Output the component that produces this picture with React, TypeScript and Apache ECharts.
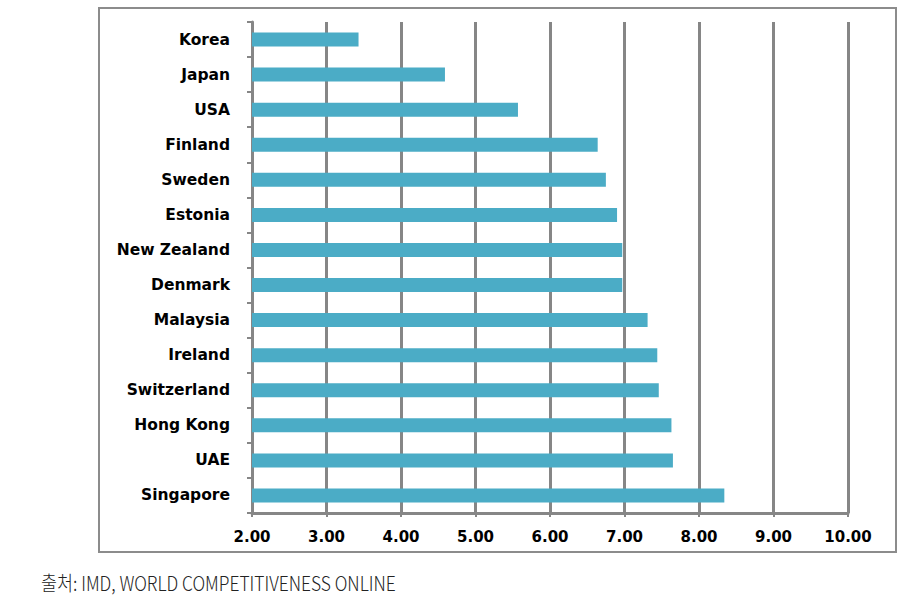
import React, { useEffect, useRef } from "react";
import * as echarts from "echarts";

const countries = [
  "Korea", "Japan", "USA", "Finland", "Sweden", "Estonia", "New Zealand",
  "Denmark", "Malaysia", "Ireland", "Switzerland", "Hong Kong", "UAE", "Singapore",
];
const scores = [3.43, 4.59, 5.57, 6.64, 6.75, 6.9, 6.97, 6.97, 7.31, 7.44, 7.46, 7.63, 7.65, 8.34];
const axisMin = 2;
const axisMax = 10;
const axisStep = 1;
const caption = "출처: IMD, WORLD COMPETITIVENESS ONLINE";

export default function App() {
  const ref = useRef<HTMLDivElement>(null);
  useEffect(() => {
    if (!ref.current) return;
    const chart = echarts.init(ref.current, null, { renderer: "svg" });
    const gray = "#868686";
    chart.setOption({
      animation: false,
      backgroundColor: "#ffffff",
      grid: { left: 252, right: 73, top: 22, bottom: 84, containLabel: false },
      xAxis: {
        type: "value",
        min: axisMin,
        max: axisMax,
        interval: axisStep,
        axisLine: { show: true, lineStyle: { color: gray, width: 3 } },
        axisTick: { show: true, length: 4, lineStyle: { color: gray, width: 2 } },
        splitLine: { show: true, lineStyle: { color: gray, width: 3 } },
        axisLabel: {
          formatter: (v: number) => v.toFixed(2),
          color: "#000",
          fontFamily: "DejaVu Sans",
          fontWeight: "bold",
          fontSize: 15,
          margin: 16,
        },
      },
      yAxis: {
        type: "category",
        data: countries,
        inverse: true,
        axisLine: { show: true, lineStyle: { color: gray, width: 3 } },
        axisTick: { show: true, length: 5, lineStyle: { color: gray, width: 2 } },
        splitLine: { show: false },
        axisLabel: {
          color: "#000",
          fontFamily: "DejaVu Sans",
          fontWeight: "bold",
          fontSize: 15.5,
          margin: 22,
          padding: [2, 0, 0, 0],
        },
      },
      series: [
        {
          type: "bar",
          data: scores,
          barWidth: 14,
          itemStyle: { color: "#4BACC6" },
        },
      ],
      graphic: [
        {
          type: "rect",
          shape: { x: 99, y: 8, width: 797, height: 544 },
          style: { fill: "none", stroke: "#8c8c8c", lineWidth: 2 },
          z: -1,
        },
        {
          type: "text",
          x: 41,
          y: 582,
          scaleX: 0.87,
          style: {
            text: caption,
            fill: "#222",
            font: "300 20px 'Noto Sans CJK KR'",
            textVerticalAlign: "middle",
          },
        },
      ],
    });
    return () => chart.dispose();
  }, []);
  return (
    <div
      ref={ref}
      style={{ position: "fixed", left: 0, top: 0, width: 921, height: 597 }}
    />
  );
}
